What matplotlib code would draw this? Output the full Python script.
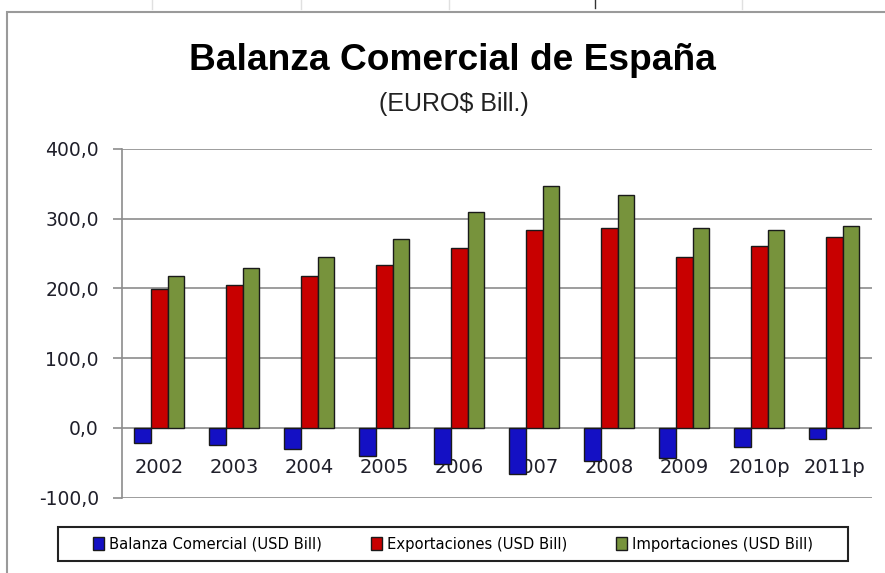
import numpy as np
import matplotlib.pyplot as plt
from matplotlib.patches import Rectangle
from matplotlib.lines import Line2D

# data (EURO$ bill.)
years = ['2002', '2003', '2004', '2005', '2006', '2007', '2008', '2009', '2010p', '2011p']
balanza = [-21.6, -24.4, -30.0, -40.2, -51.0, -65.5, -47.8, -43.0, -27.0, -16.0]
exportaciones = [199.7, 205.0, 218.4, 234.2, 257.5, 283.8, 286.7, 244.6, 260.4, 273.3]
importaciones = [218.4, 229.5, 244.8, 271.0, 310.0, 347.4, 334.5, 286.7, 283.8, 289.0]
series_names = ['Balanza Comercial (USD Bill)', 'Exportaciones (USD Bill)', 'Importaciones (USD Bill)']
ytick_vals = [-100, 0, 100, 200, 300, 400]
ytick_labels = ['-100,0', '0,0', '100,0', '200,0', '300,0', '400,0']

colors = ['#1410C4', '#C80000', '#77933C']
edge = '#1a1a1a'
grid_c = '#8c8c8c'
text_c = '#1f1f2a'

fig = plt.figure(figsize=(8.85, 5.73), dpi=100)
ax = fig.add_axes([121.7 / 885, 75.3 / 573, 750 / 885, 348.7 / 573])

x = np.arange(len(years))
w = 0.222
for k, vals in enumerate([balanza, exportaciones, importaciones]):
    ax.bar(x + (k - 1) * w, vals, w, color=colors[k], edgecolor=edge, linewidth=1.0, zorder=3)

ax.set_xlim(-0.5, len(years) - 0.5)
ax.set_ylim(-100, 400)
ax.set_yticks(ytick_vals)
ax.set_yticklabels(ytick_labels, fontsize=13.5, color=text_c)
ax.tick_params(axis='y', length=6.5, width=1.2, color=grid_c, pad=10)
ax.set_xticks([])
ax.yaxis.grid(True, color=grid_c, linewidth=1.2, zorder=0)
for s in ['top', 'right', 'bottom']:
    ax.spines[s].set_visible(False)
ax.spines['left'].set_color(grid_c)
ax.spines['left'].set_linewidth(1.2)

# category labels sit just under the zero line, like excel does
for i, yr in enumerate(years):
    ax.text(i, -57, yr, ha='center', va='center', fontsize=14, color=text_c, zorder=1)

# titles
fig.text(452 / 885, 1 - 60 / 573, 'Balanza Comercial de España', ha='center', va='center',
         fontsize=26.7, fontweight='bold', family='Liberation Sans')
fig.text(454 / 885, 1 - 104 / 573, '(EURO$ Bill.)', ha='center', va='center',
         fontsize=18, family='Liberation Sans', color='#222222')

# legend box drawn by hand, entries from a normal legend
fig.patches.append(Rectangle((58 / 885, 1 - 561 / 573), 790 / 885, 34 / 573,
                             transform=fig.transFigure, fill=False, edgecolor='#222222', linewidth=1.5))
handles = [Rectangle((0, 0), 1, 1, facecolor=c, edgecolor=edge, linewidth=1.0) for c in colors]
fig.legend(handles, series_names, loc='center', bbox_to_anchor=(453 / 885, 1 - 544 / 573),
           ncol=3, frameon=False, fontsize=10.6, handlelength=0.75, handleheight=0.95,
           handletextpad=0.35, columnspacing=3.3)

# chart area border and spreadsheet gridline stubs
fig.patches.append(Rectangle((7 / 885, -0.1), 1.2, 1 - 12 / 573 + 0.1,
                             transform=fig.transFigure, fill=False, edgecolor='#9a9a9a', linewidth=1.5))
for gx in [152, 301, 449, 742]:
    fig.lines.append(Line2D([gx / 885, gx / 885], [1, 1 - 9 / 573], transform=fig.transFigure,
                            color='#e0e0e0', linewidth=1))
fig.lines.append(Line2D([595 / 885, 595 / 885], [1, 1 - 8 / 573], transform=fig.transFigure,
                        color='#333333', linewidth=1))

fig.savefig('out.png', dpi=100)
